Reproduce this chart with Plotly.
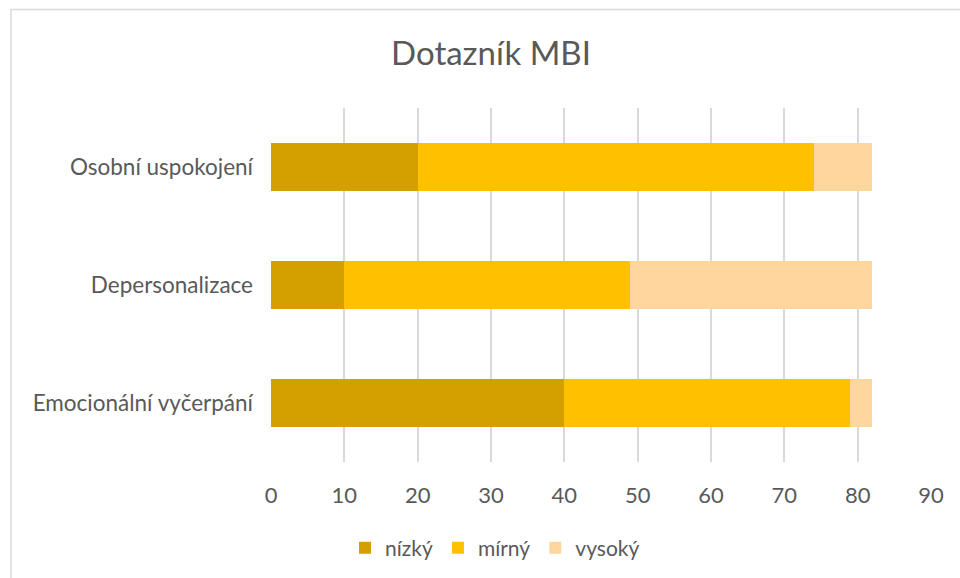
import plotly.graph_objects as go

categories = ["Emocionální vyčerpání", "Depersonalizace", "Osobní uspokojení"]
nizky = [40, 10, 20]
mirny = [39, 39, 54]
vysoky = [3, 33, 8]
series_names = ["nízký", "mírný", "vysoký"]
colors = ["#D3A000", "#FFC000", "#FFD69E"]
x_ticks = [0, 10, 20, 30, 40, 50, 60, 70, 80, 90]

FONT = "Lato, 'Open Sans', sans-serif"
GREY = "#595959"

fig = go.Figure()
for name, vals, col in zip(series_names, [nizky, mirny, vysoky], colors):
    fig.add_trace(go.Bar(
        y=categories, x=vals, name=name, orientation="h",
        marker=dict(color=col, line=dict(width=0)),
        width=0.4,
    ))

W, H = 960, 578
L, R, T, B = 271, 29, 108, 116
pw, ph = W - L - R, H - T - B

def px2x(px):
    return (px - L) / pw

def py2y(py):
    return (H - B - py) / ph

fig.update_layout(
    width=W, height=H,
    barmode="stack",
    plot_bgcolor="white", paper_bgcolor="white",
    margin=dict(l=L, r=R, t=T, b=B, autoexpand=False),
    title=dict(text="Dotazník MBI", x=491 / W, xanchor="center", y=1 - 53 / H, yanchor="middle",
               font=dict(family=FONT, size=33, color=GREY)),
    font=dict(family=FONT, color=GREY, size=22),
    xaxis=dict(range=[0, 90], tickvals=x_ticks, showgrid=True, gridcolor="#D9D9D9", gridwidth=1.5,
               zeroline=False, showline=False, ticks="", tickfont=dict(size=22, color=GREY),
               ticklabelstandoff=18),
    yaxis=dict(categoryorder="array", categoryarray=categories, showgrid=False, zeroline=False,
               showline=False, ticks="", tickfont=dict(size=22.5, color=GREY), ticklabelstandoff=17),
    legend=dict(orientation="h", x=495 / W, xanchor="center",
                xref="container", y=1 - 548 / H, yref="container", yanchor="middle",
                font=dict(size=21, color=GREY), traceorder="normal"),
    shapes=[dict(type="rect", xref="paper", yref="paper",
                 x0=px2x(11), x1=px2x(1000), y0=py2y(700), y1=py2y(9.5),
                 line=dict(color="#D9D9D9", width=1.5), fillcolor="rgba(0,0,0,0)", layer="below")],
)

fig.write_html("out.html", config={"displayModeBar": False},
               post_script="document.body.style.margin='0';document.body.style.overflow='hidden';")
